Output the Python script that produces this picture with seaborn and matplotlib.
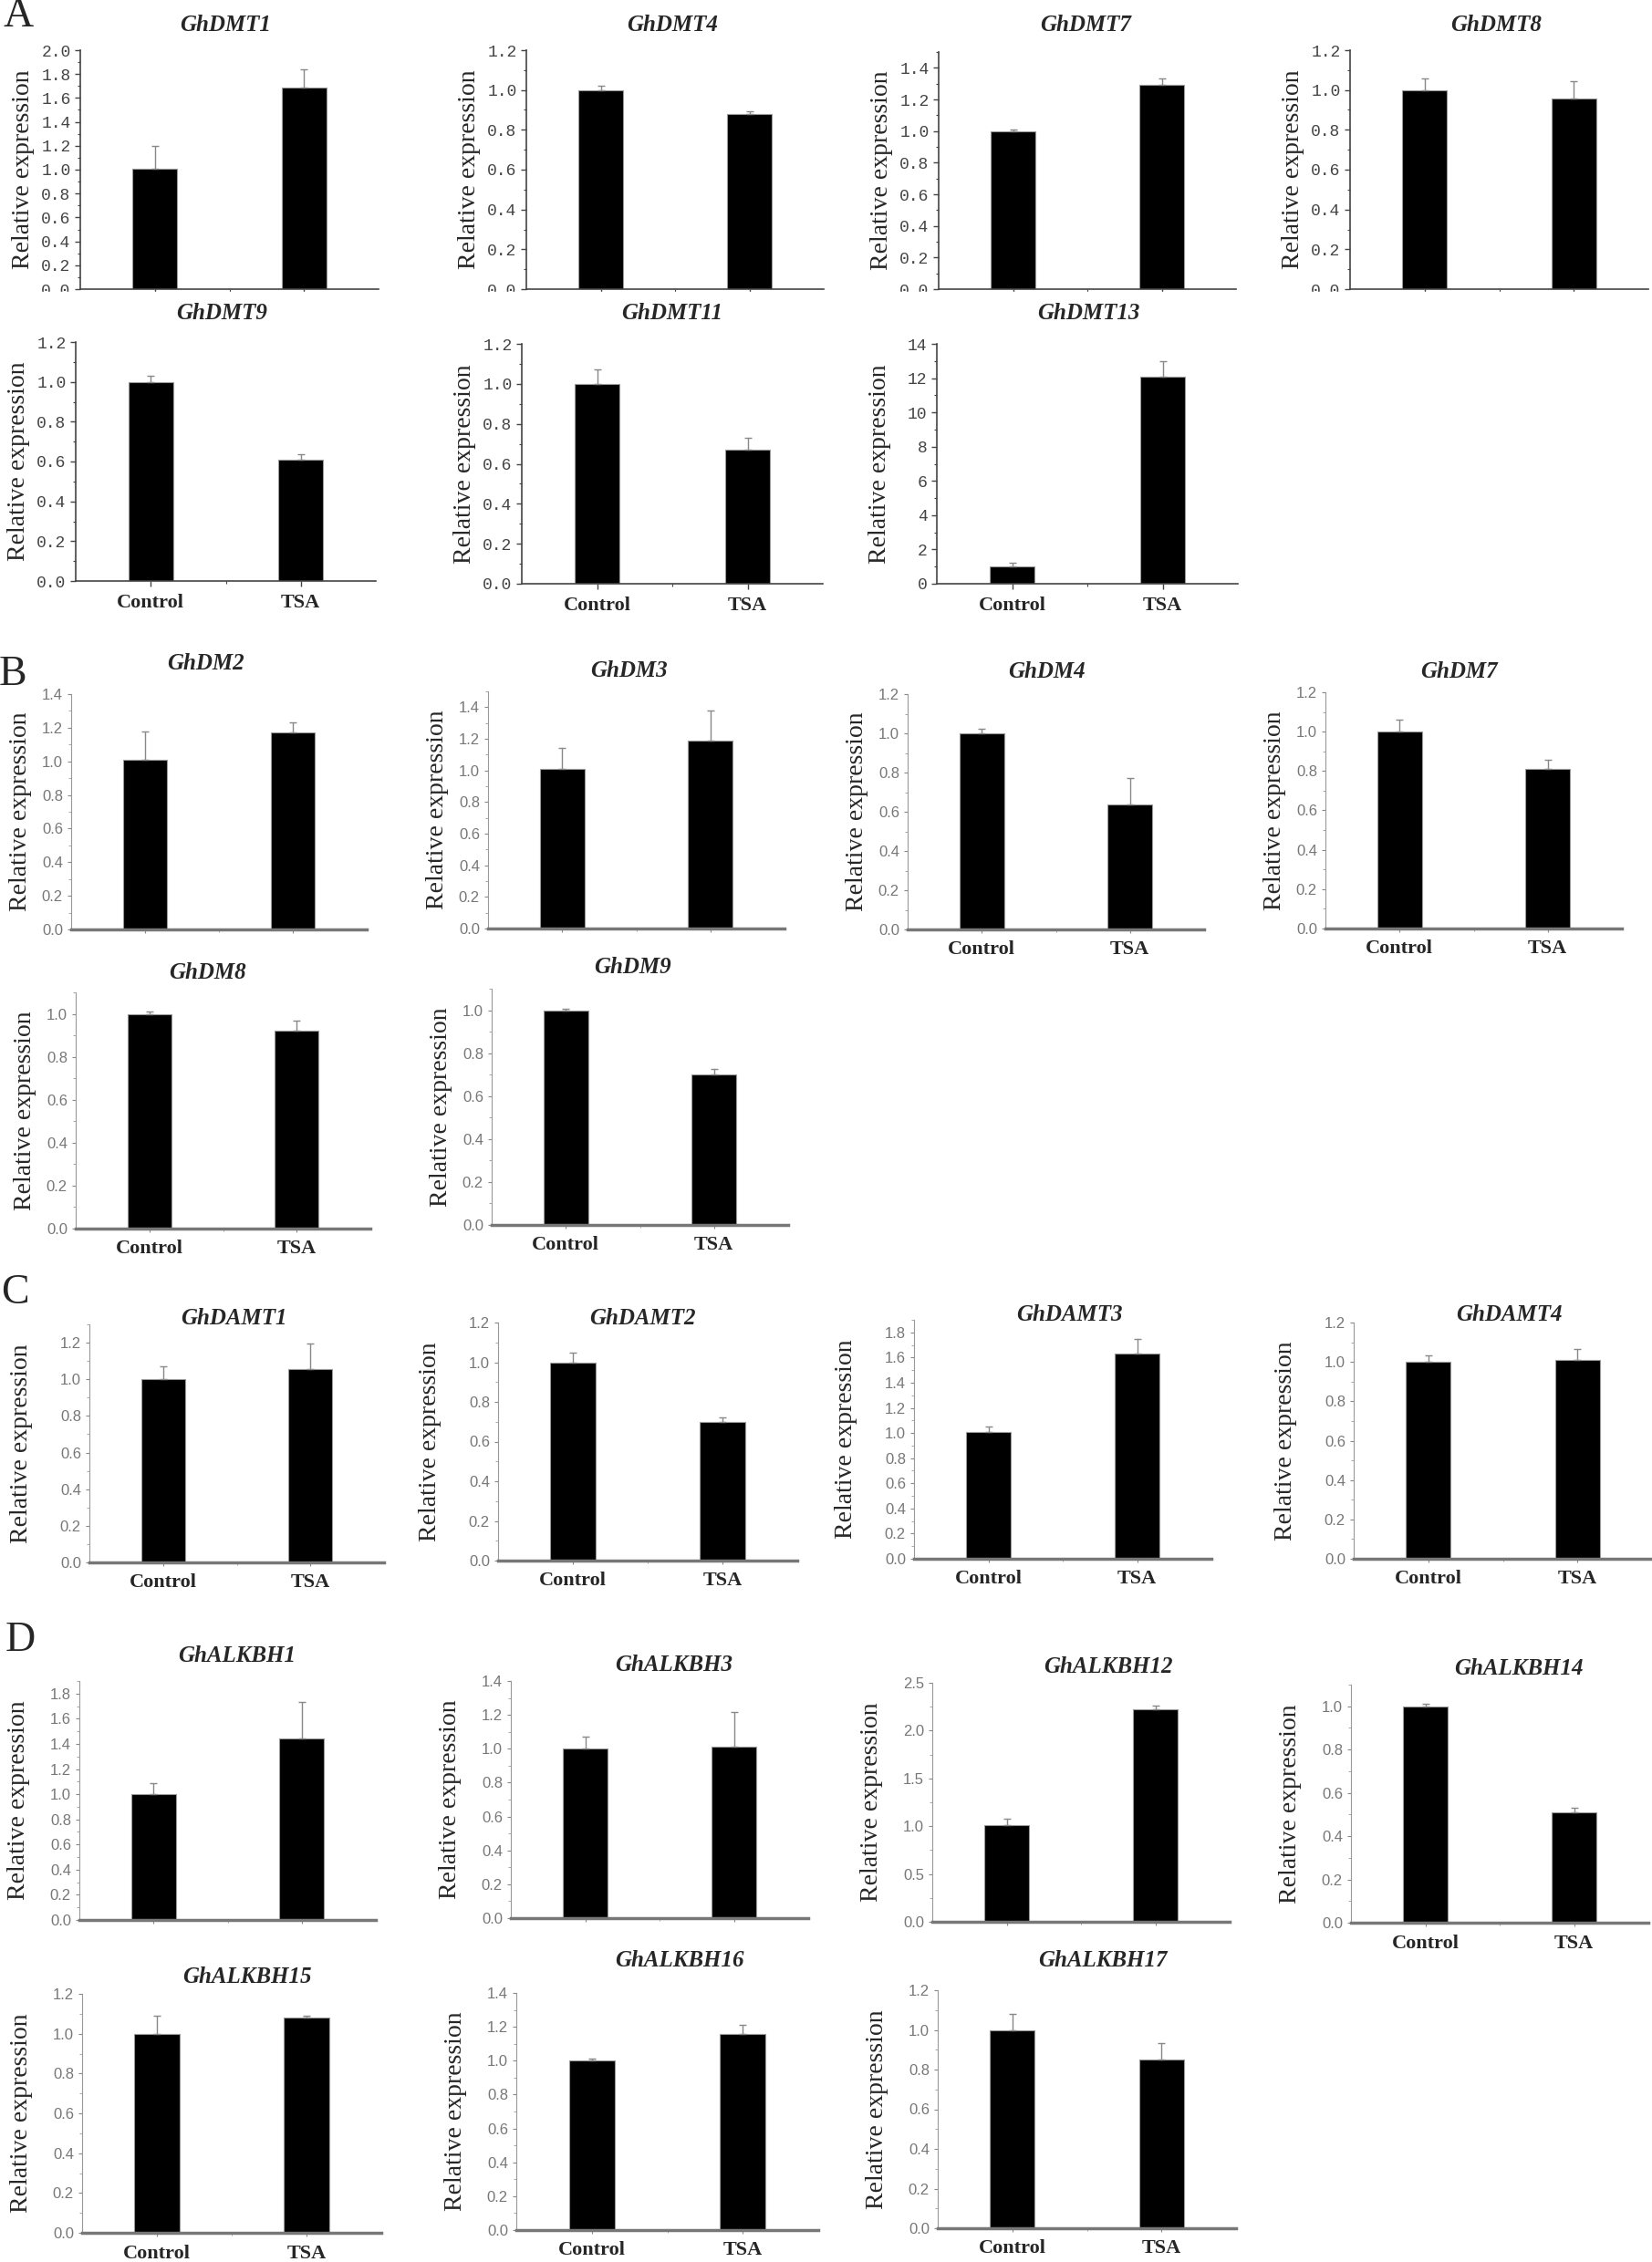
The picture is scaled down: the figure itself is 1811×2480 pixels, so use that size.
import matplotlib
matplotlib.use('Agg')
import matplotlib.pyplot as plt
import seaborn as sns
from matplotlib.ticker import MultipleLocator, AutoMinorLocator, FormatStrFormatter
from matplotlib.patches import Rectangle

W, H = 1811, 2480
groups = ['Control', 'TSA']

# ---- data ----
genes_A = ['GhDMT1', 'GhDMT4', 'GhDMT7', 'GhDMT8', 'GhDMT9', 'GhDMT11', 'GhDMT13']
control_A = [1.01, 1.00, 1.00, 1.00, 1.00, 1.00, 1.03]
tsa_A = [1.69, 0.88, 1.29, 0.955, 0.61, 0.67, 12.1]
control_err_A = [0.19, 0.02, 0.01, 0.06, 0.03, 0.07, 0.2]
tsa_err_A = [0.15, 0.015, 0.04, 0.09, 0.025, 0.06, 0.9]

genes_B = ['GhDM2', 'GhDM3', 'GhDM4', 'GhDM7', 'GhDM8', 'GhDM9']
control_B = [1.01, 1.01, 1.00, 1.00, 1.00, 1.00]
tsa_B = [1.17, 1.19, 0.636, 0.81, 0.92, 0.70]
control_err_B = [0.17, 0.13, 0.025, 0.06, 0.01, 0.006]
tsa_err_B = [0.06, 0.19, 0.136, 0.045, 0.05, 0.028]

genes_C = ['GhDAMT1', 'GhDAMT2', 'GhDAMT3', 'GhDAMT4']
control_C = [1.00, 1.00, 1.01, 1.00]
tsa_C = [1.055, 0.70, 1.63, 1.01]
control_err_C = [0.07, 0.05, 0.04, 0.035]
tsa_err_C = [0.14, 0.02, 0.115, 0.055]

genes_D = ['GhALKBH1', 'GhALKBH3', 'GhALKBH12', 'GhALKBH14',
           'GhALKBH15', 'GhALKBH16', 'GhALKBH17']
control_D = [1.00, 1.00, 1.01, 1.00, 1.00, 1.00, 1.00]
tsa_D = [1.445, 1.01, 2.22, 0.51, 1.08, 1.16, 0.85]
control_err_D = [0.09, 0.07, 0.07, 0.01, 0.09, 0.01, 0.08]
tsa_err_D = [0.29, 0.205, 0.045, 0.02, 0.012, 0.05, 0.085]

# ---- layout in pixels: left, right, y of zero, y of top, ymax, tick step, title x, title y, x labels ----
layout_A = [(88, 415, 317, 55, 2.0, 0.2, 247, 27, False),
            (577, 903, 317, 55, 1.2, 0.2, 737, 27, False),
            (1029, 1355, 317, 57, 1.5, 0.2, 1190, 27, False),
            (1480, 1807, 317, 55, 1.2, 0.2, 1640, 27, False),
            (83, 412, 637, 375, 1.2, 0.2, 243, 343, True),
            (572, 902, 640, 377, 1.2, 0.2, 737, 343, True),
            (1027, 1357, 640, 377, 14, 2, 1193, 343, True)]
layout_B = [(78, 402, 1019, 761, 1.4, 0.2, 225, 728, False),
            (535, 860, 1018, 758, 1.5, 0.2, 689, 735, False),
            (995, 1320, 1019, 761, 1.2, 0.2, 1147, 737, True),
            (1453, 1778, 1018, 759, 1.2, 0.2, 1599, 737, True),
            (83, 406, 1347, 1088, 1.1, 0.2, 227, 1067, True),
            (539, 864, 1343, 1084, 1.1, 0.2, 693, 1060, True)]
layout_C = [(98, 421, 1713, 1452, 1.3, 0.2, 256, 1445, True),
            (546, 874, 1711, 1450, 1.2, 0.2, 704, 1445, True),
            (1002, 1328, 1709, 1447, 1.9, 0.2, 1172, 1442, True),
            (1484, 1811, 1709, 1450, 1.2, 0.2, 1654, 1442, True)]
layout_D = [(87, 412, 2105, 1843, 1.9, 0.2, 260, 1815, False),
            (560, 886, 2103, 1843, 1.4, 0.2, 739, 1825, False),
            (1022, 1348, 2107, 1845, 2.5, 0.5, 1215, 1828, False),
            (1481, 1807, 2108, 1847, 1.1, 0.2, 1665, 1830, True),
            (90, 418, 2448, 2186, 1.2, 0.2, 271, 2168, True),
            (566, 897, 2445, 2185, 1.4, 0.2, 745, 2150, True),
            (1028, 1355, 2443, 2182, 1.2, 0.2, 1209, 2150, True)]


def draw_panel(fig, box, values, errors, gene, old_style, label_off):
    left, right, y0, ytop, ymax, step, tx, ty, show = box
    ax = fig.add_axes([left / W, 1 - y0 / H, (right - left) / W, (y0 - ytop) / H])
    sns.barplot(x=groups, y=values, color='black', saturation=1, width=0.3,
                edgecolor='#9a9a9a', linewidth=0.8, ax=ax)
    ax.errorbar([0, 1], values, yerr=[[0, 0], errors], fmt='none',
                ecolor='#888888', elinewidth=1, capsize=3, capthick=1, zorder=3)
    ax.set_xlim(-0.5, 1.5)
    ax.set_ylim(0, ymax)
    ax.yaxis.set_major_locator(MultipleLocator(step))
    ax.yaxis.set_minor_locator(AutoMinorLocator(2))
    ax.yaxis.set_major_formatter(FormatStrFormatter('%d' if step >= 1 else '%.1f'))
    ax.set_xticks([0, 1])
    ax.set_xticks([0.5], minor=True)
    if show:
        ax.set_xticklabels(groups, fontsize=16, fontweight='bold')
    else:
        ax.set_xticklabels([])
    ax.set_xlabel('')
    ax.set_ylabel('Relative expression', fontsize=20)
    ax.yaxis.set_label_coords(-label_off / (right - left), 0.5)
    sns.despine(ax=ax)

    if old_style:
        for s in ['left', 'bottom']:
            ax.spines[s].set_color('#444444')
            ax.spines[s].set_linewidth(1.2)
        ax.tick_params(axis='both', which='major', length=4, width=1, color='#444444')
        ax.tick_params(axis='both', which='minor', length=2.5, width=0.8, color='#444444')
        ax.tick_params(axis='y', labelsize=13, labelcolor='#444444')
        for t in ax.get_yticklabels():
            t.set_family(['Liberation Mono', 'DejaVu Sans Mono'])
    else:
        ax.spines['left'].set_color('#999999')
        ax.spines['left'].set_linewidth(0.8)
        ax.spines['bottom'].set_color('#777777')
        ax.spines['bottom'].set_linewidth(2.5)
        ax.tick_params(axis='both', which='major', length=3, width=0.8, color='#888888')
        ax.tick_params(axis='both', which='minor', length=2, width=0.6, color='#999999')
        ax.tick_params(axis='y', labelsize=12, labelcolor='#777777')
        for t in ax.get_yticklabels():
            t.set_family(['Liberation Sans Narrow', 'Liberation Sans', 'DejaVu Sans'])
    ax.tick_params(axis='x', pad=6)

    fig.text(tx / W, 1 - ty / H, gene, ha='center', va='center',
             fontsize=18, fontweight='bold', fontstyle='italic')
    return ax


def main():
    sns.set_style('ticks')
    plt.rcParams['font.family'] = ['Liberation Serif', 'DejaVu Serif']

    fig = plt.figure(figsize=(W / 100, H / 100), dpi=100)

    sections = [
        (genes_A, control_A, tsa_A, control_err_A, tsa_err_A, layout_A, True, 50),
        (genes_B, control_B, tsa_B, control_err_B, tsa_err_B, layout_B, False, 43),
        (genes_C, control_C, tsa_C, control_err_C, tsa_err_C, layout_C, False, 62),
        (genes_D, control_D, tsa_D, control_err_D, tsa_err_D, layout_D, False, 54),
    ]
    for genes, ctrl, tsa, ctrl_err, tsa_err, boxes, old_style, off in sections:
        for i, gene in enumerate(genes):
            draw_panel(fig, boxes[i], [ctrl[i], tsa[i]], [ctrl_err[i], tsa_err[i]],
                       gene, old_style, off)

    # section letters
    for letter, (lx, ly) in zip('ABCD', [(20, 18), (14, 740), (16, 1418), (22, 1799)]):
        fig.text(lx / W, 1 - ly / H, letter, ha='center', va='center', fontsize=33)

    # the first row of A is cut just under its axis line
    fig.add_artist(Rectangle((0, 1 - 326 / H), 1, (326 - 319.5) / H,
                             transform=fig.transFigure, color='white', zorder=100))

    fig.savefig('out.png', dpi=100)
    plt.close(fig)


if __name__ == '__main__':
    main()
